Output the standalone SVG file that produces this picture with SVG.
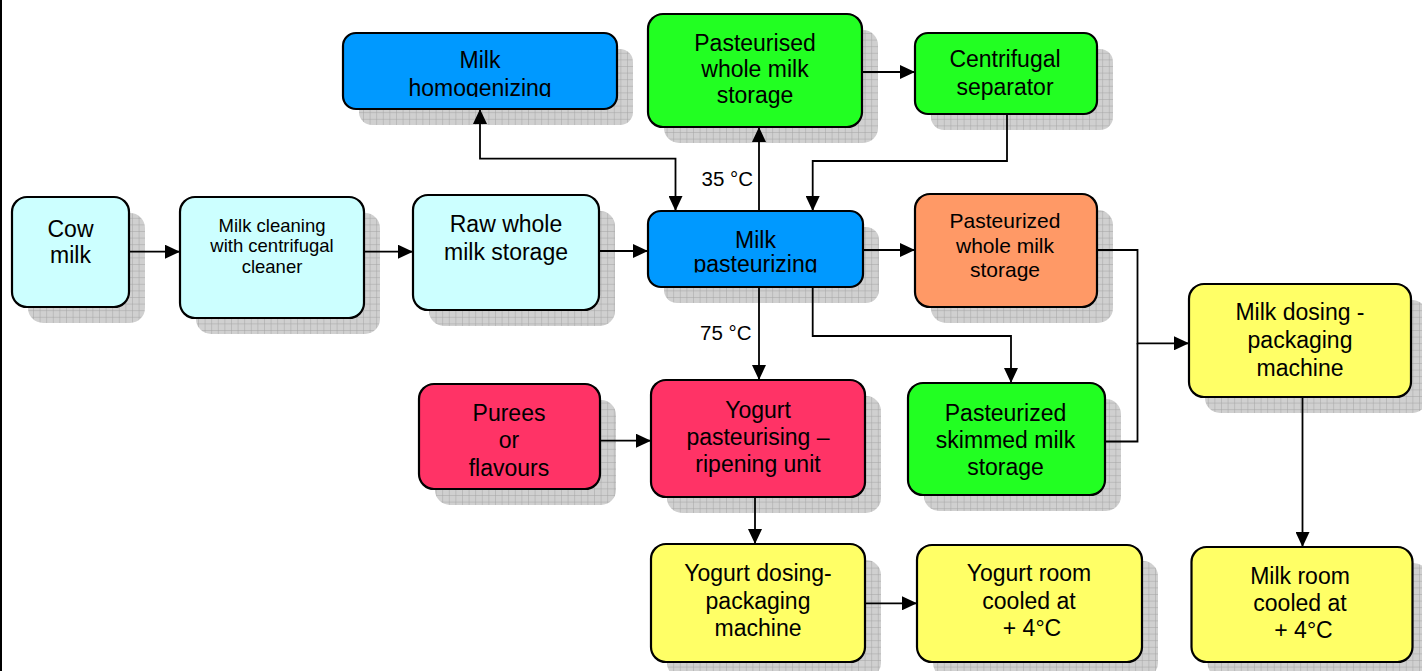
<svg xmlns="http://www.w3.org/2000/svg" width="1422" height="671" viewBox="0 0 1422 671">
<defs>
<pattern id="grid" width="6.6" height="6.6" patternUnits="userSpaceOnUse">
<rect width="6.6" height="6.6" fill="#d0d0d0"/>
<path d="M0,0.35 H6.6 M0.35,0 V6.6" stroke="#a4a4a4" stroke-width="0.6"/>
</pattern>
<marker id="ah" markerUnits="userSpaceOnUse" markerWidth="15" markerHeight="14" refX="15" refY="7" orient="auto-start-reverse">
<path d="M0,0 L15,7 L0,14 z" fill="#000"/>
</marker>
<clipPath id="clipHomog"><rect x="343" y="33" width="274" height="64"/></clipPath>
<clipPath id="clipPast"><rect x="648" y="211" width="215" height="61.5"/></clipPath>
</defs>
<style>
.sh{fill:url(#grid)}
.bx{stroke:#000;stroke-width:2.2}
.cy{fill:#ccffff}
.bl{fill:#0099ff}
.gr{fill:#22ff22}
.or{fill:#ff9966}
.rd{fill:#ff3366}
.ye{fill:#ffff66}
.t{font-family:"Liberation Sans",Arial,sans-serif;font-size:23px;fill:#000;text-anchor:middle}
.s{font-size:18.5px}
.m{font-size:21px}
.lb{font-family:"Liberation Sans",Arial,sans-serif;font-size:20.5px;fill:#000;text-anchor:end}
.c{fill:none;stroke:#000;stroke-width:1.8}
</style>
<rect width="1422" height="671" fill="#fff"/>
<line x1="1" y1="0" x2="1" y2="671" stroke="#000" stroke-width="2"/>

<g id="cow-milk">
<rect class="sh" x="28" y="213" width="117" height="110" rx="15"/>
<rect class="bx cy" x="12" y="197" width="117" height="110" rx="15"/>
<text class="t" x="70.5" y="237">Cow</text>
<text class="t" x="70.5" y="263">milk</text>
</g>

<g id="milk-cleaning">
<rect class="sh" x="196" y="213" width="184" height="121" rx="15"/>
<rect class="bx cy" x="180" y="197" width="184" height="121" rx="15"/>
<text class="t s" x="272" y="231.5">Milk cleaning</text>
<text class="t s" x="272" y="252">with centrifugal</text>
<text class="t s" x="272" y="272.5">cleaner</text>
</g>

<g id="raw-whole-milk-storage">
<rect class="sh" x="429" y="211" width="186" height="115" rx="15"/>
<rect class="bx cy" x="413" y="195" width="186" height="115" rx="15"/>
<text class="t" x="506" y="232">Raw whole</text>
<text class="t" x="506" y="259.5">milk storage</text>
</g>

<g id="milk-pasteurizing">
<rect class="sh" x="664" y="227" width="215" height="76" rx="13"/>
<rect class="bx bl" x="648" y="211" width="215" height="76" rx="13"/>
<g clip-path="url(#clipPast)">
<text class="t" x="755.5" y="247.5">Milk</text>
<text class="t" x="755.5" y="271.5">pasteurizing</text>
</g>
</g>

<g id="milk-homogenizing">
<rect class="sh" x="359" y="49" width="274" height="76" rx="13"/>
<rect class="bx bl" x="343" y="33" width="274" height="76" rx="13"/>
<g clip-path="url(#clipHomog)">
<text class="t" x="480" y="68">Milk</text>
<text class="t" x="480" y="96">homogenizing</text>
</g>
</g>

<g id="pasteurised-whole-milk-storage">
<rect class="sh" x="664" y="30" width="214" height="113" rx="15"/>
<rect class="bx gr" x="648" y="14" width="214" height="113" rx="15"/>
<text class="t" x="755" y="50.5">Pasteurised</text>
<text class="t" x="755" y="77">whole milk</text>
<text class="t" x="755" y="102.5">storage</text>
</g>

<g id="centrifugal-separator">
<rect class="sh" x="931" y="49" width="182" height="81" rx="13"/>
<rect class="bx gr" x="915" y="33" width="182" height="81" rx="13"/>
<text class="t" x="1005" y="67">Centrifugal</text>
<text class="t" x="1005" y="95">separator</text>
</g>

<g id="pasteurized-whole-milk-storage">
<rect class="sh" x="931" y="210" width="182" height="113" rx="15"/>
<rect class="bx or" x="915" y="194" width="182" height="113" rx="15"/>
<text class="t m" x="1005" y="228">Pasteurized</text>
<text class="t m" x="1005" y="253">whole milk</text>
<text class="t m" x="1005" y="277">storage</text>
</g>

<g id="pasteurized-skimmed-milk-storage">
<rect class="sh" x="924" y="399" width="197" height="112" rx="15"/>
<rect class="bx gr" x="908" y="383" width="197" height="112" rx="15"/>
<text class="t" x="1005.5" y="420.5">Pasteurized</text>
<text class="t" x="1005.5" y="447.5">skimmed milk</text>
<text class="t" x="1005.5" y="474.5">storage</text>
</g>

<g id="milk-dosing-packaging-machine">
<rect class="sh" x="1205" y="300" width="222" height="113" rx="15"/>
<rect class="bx ye" x="1189" y="284" width="222" height="113" rx="15"/>
<text class="t" x="1300" y="320">Milk dosing -</text>
<text class="t" x="1300" y="348">packaging</text>
<text class="t" x="1300" y="376">machine</text>
</g>

<g id="purees-or-flavours">
<rect class="sh" x="435" y="400" width="181" height="105" rx="15"/>
<rect class="bx rd" x="419" y="384" width="181" height="105" rx="15"/>
<text class="t" x="509" y="420.5">Purees</text>
<text class="t" x="509" y="448">or</text>
<text class="t" x="509" y="476">flavours</text>
</g>

<g id="yogurt-pasteurising-ripening-unit">
<rect class="sh" x="667" y="396" width="214" height="117" rx="15"/>
<rect class="bx rd" x="651" y="380" width="214" height="117" rx="15"/>
<text class="t" x="758" y="418">Yogurt</text>
<text class="t" x="758" y="445">pasteurising –</text>
<text class="t" x="758" y="472">ripening unit</text>
</g>

<g id="yogurt-dosing-packaging-machine">
<rect class="sh" x="667" y="560" width="214" height="118" rx="15"/>
<rect class="bx ye" x="651" y="544" width="214" height="118" rx="15"/>
<text class="t" x="758" y="581">Yogurt dosing-</text>
<text class="t" x="758" y="608.5">packaging</text>
<text class="t" x="758" y="636">machine</text>
</g>

<g id="yogurt-room">
<rect class="sh" x="933" y="561" width="225" height="117" rx="15"/>
<rect class="bx ye" x="917" y="545" width="225" height="117" rx="15"/>
<text class="t" x="1029" y="581">Yogurt room</text>
<text class="t" x="1029" y="608.5">cooled at</text>
<text class="t" x="1032" y="636">+ 4°C</text>
</g>

<g id="milk-room">
<rect class="sh" x="1207.5" y="563" width="221" height="115" rx="15"/>
<rect class="bx ye" x="1191.5" y="547" width="221" height="115" rx="15"/>
<text class="t" x="1300" y="584">Milk room</text>
<text class="t" x="1300" y="611">cooled at</text>
<text class="t" x="1303.5" y="638">+ 4°C</text>
</g>

<g id="connectors">
<path class="c" marker-end="url(#ah)" d="M129,251.7 H180"/>
<path class="c" marker-end="url(#ah)" d="M364,251.7 H413"/>
<path class="c" marker-end="url(#ah)" d="M599,251 H648"/>
<path class="c" marker-start="url(#ah)" marker-end="url(#ah)" d="M675.5,211 V158.7 H480 V109"/>
<path class="c" marker-end="url(#ah)" d="M759,211 V127"/>
<path class="c" marker-end="url(#ah)" d="M862,72 H915"/>
<path class="c" marker-end="url(#ah)" d="M1007,114 V161 H812.7 V211"/>
<path class="c" marker-end="url(#ah)" d="M863,250 H915"/>
<path class="c" marker-end="url(#ah)" d="M759,287 V380"/>
<path class="c" marker-end="url(#ah)" d="M812.7,287 V336 H1011 V383"/>
<path class="c" marker-end="url(#ah)" d="M1097,250 H1137.5 V343.3 H1189"/>
<path class="c" d="M1105,441.5 H1137.5 V343.3"/>
<path class="c" marker-end="url(#ah)" d="M600,440.7 H651"/>
<path class="c" marker-end="url(#ah)" d="M755,497 V544"/>
<path class="c" marker-end="url(#ah)" d="M865,603.3 H917"/>
<path class="c" marker-end="url(#ah)" d="M1302.5,397 V547"/>
<text class="lb" x="753" y="185.5">35 °C</text>
<text class="lb" x="751.5" y="340">75 °C</text>
</g>
</svg>
